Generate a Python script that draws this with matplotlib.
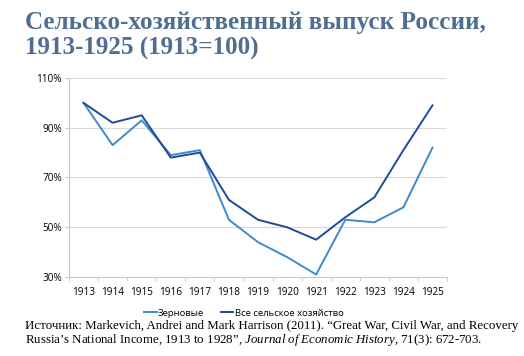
import matplotlib
matplotlib.use("Agg")
import matplotlib.pyplot as plt
import numpy as np

plt.rcParams["mathtext.fontset"] = "custom"
plt.rcParams["mathtext.it"] = "Liberation Serif:italic"
plt.rcParams["mathtext.rm"] = "Liberation Serif"

years = ["1913", "1914", "1915", "1916", "1917", "1918", "1919", "1920", "1921", "1922", "1923", "1924", "1925"]
grain = [100, 83, 93, 79, 81, 53, 44, 38, 31, 53, 52, 58, 82]
all_agri = [100, 92, 95, 78, 80, 61, 53, 50, 45, 54, 62, 81, 99]
yticks = [30, 50, 70, 90, 110]
ytick_labels = ["30%", "50%", "70%", "90%", "110%"]

fig = plt.figure(figsize=(5.24, 3.56), dpi=100)
ax = fig.add_axes([69/524, 1-277/356, (447-69)/524, (277-78)/356])

x = np.arange(len(years))
ax.plot(x, grain, color="#3C8BD0", lw=1.4, label="Зерновые")
ax.plot(x, all_agri, color="#1F4B99", lw=1.4, label="Все сельское хозяйство")

ax.set_xlim(-0.5, len(years)-0.5)
ax.set_ylim(30, 110)
ax.set_yticks(yticks)
ax.set_yticklabels(ytick_labels, fontsize=7.2, family="Open Sans")
ax.set_xticks(x)
ax.set_xticklabels(years, fontsize=7.2, family="Open Sans")
ax.set_xticks(np.arange(-0.5, len(years)), minor=True)
ax.tick_params(axis="x", which="major", length=0, pad=7)
ax.tick_params(axis="x", which="minor", length=3, color="#C8C8C8")
ax.tick_params(axis="y", length=3, color="#C8C8C8", pad=2)
ax.grid(axis="y", color="#D9D9D9", lw=0.8)
ax.set_axisbelow(True)
for s in ["top", "right"]:
    ax.spines[s].set_visible(False)
for s in ["left", "bottom"]:
    ax.spines[s].set_color("#C8C8C8")
    ax.spines[s].set_linewidth(0.8)

leg = fig.legend(loc="center", bbox_to_anchor=(244/524, 1-313/356), ncol=2, frameon=False,
                 prop={"family": "Open Sans", "size": 6.8}, handlelength=1.3, handletextpad=0.15,
                 columnspacing=1.8)

fig.text(25/524, 1-22/356, "Сельско-хозяйственный выпуск России,", fontsize=18.1, fontweight="bold",
         family="Liberation Serif", color="#506E90", va="center")
fig.text(25/524, 1-48/356, "1913-1925 (1913=100)", fontsize=18.1, fontweight="bold",
         family="Liberation Serif", color="#506E90", va="center")

fig.text(25/524, 1-334/356,
         "Источник: Markevich, Andrei and Mark Harrison (2011). \u201cGreat War, Civil War, and Recovery\n"
         "Russia\u2019s National Income, 1913 to 1928\u201d, $\\it{Journal\\ of\\ Economic\\ History}$, 71(3): 672-703.",
         fontsize=9.3, family="Liberation Serif", va="center", linespacing=0.95)

fig.savefig("out.png", dpi=100)
